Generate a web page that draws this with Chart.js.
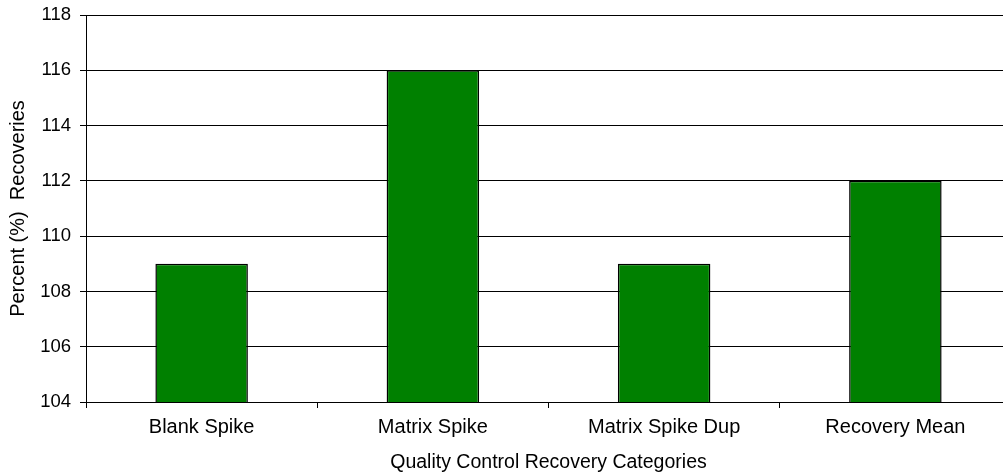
<!DOCTYPE html>
<html>
<head>
<meta charset="utf-8">
<script src="https://cdn.jsdelivr.net/npm/chart.js@4/dist/chart.umd.min.js"></script>
<style>
  html, body { margin: 0; padding: 0; background: #fff; overflow: hidden; }
  #wrap { width: 1003px; height: 475px; overflow: hidden; }
  canvas { display: block; }
</style>
</head>
<body>
<div id="wrap"><canvas id="chart" width="1040" height="475"></canvas></div>
<script>
// QC recovery results (percent)
const categories = ['Blank Spike', 'Matrix Spike', 'Matrix Spike Dup', 'Recovery Mean'];
const recoveries = [109, 116, 109, 112];

// value axis range
const yMin = 104;
const yMax = 118;
const yStep = 2;

const FONT = 'Arial, "Liberation Sans", sans-serif';

new Chart(document.getElementById('chart'), {
  type: 'bar',
  data: {
    labels: categories,
    datasets: [{
      data: recoveries,
      backgroundColor: '#008000',
      borderColor: '#000000',
      borderWidth: 1.5,
      barPercentage: 0.4,
      categoryPercentage: 1.0
    }]
  },
  options: {
    responsive: false,
    animation: false,
    devicePixelRatio: 1,
    layout: { padding: { top: 15, right: 29, bottom: 0, left: 0 } },
    plugins: {
      legend: { display: false },
      tooltip: { enabled: false }
    },
    scales: {
      x: {
        afterFit: (s) => { s.height = 73; s.paddingLeft = 0; s.paddingRight = 0; },
        grid: {
          display: true,
          drawOnChartArea: false,
          drawTicks: true,
          tickLength: 6,
          color: '#000000',
          offset: true
        },
        border: { display: true, color: '#000000', width: 1 },
        ticks: {
          color: '#000000',
          font: { family: FONT, size: 20 },
          padding: 7,
          maxRotation: 0,
          autoSkip: false
        },
        title: {
          display: true,
          text: 'Quality Control Recovery Categories',
          color: '#000000',
          font: { family: FONT, size: 19.5 },
          padding: { top: 0, bottom: 1 }
        }
      },
      y: {
        min: yMin,
        max: yMax,
        afterFit: (s) => { s.width = 86; s.paddingTop = 0; s.paddingBottom = 0; },
        grid: {
          color: '#000000',
          lineWidth: 1,
          drawTicks: true,
          tickLength: 6
        },
        border: { display: true, color: '#000000', width: 1 },
        ticks: {
          stepSize: yStep,
          color: '#000000',
          font: { family: FONT, size: 18.5 },
          padding: 9
        },
        title: {
          display: true,
          text: 'Percent (%)  Recoveries',
          color: '#000000',
          font: { family: FONT, size: 20 },
          padding: { top: 6, bottom: 0 }
        }
      }
    }
  }
});
</script>
</body>
</html>
